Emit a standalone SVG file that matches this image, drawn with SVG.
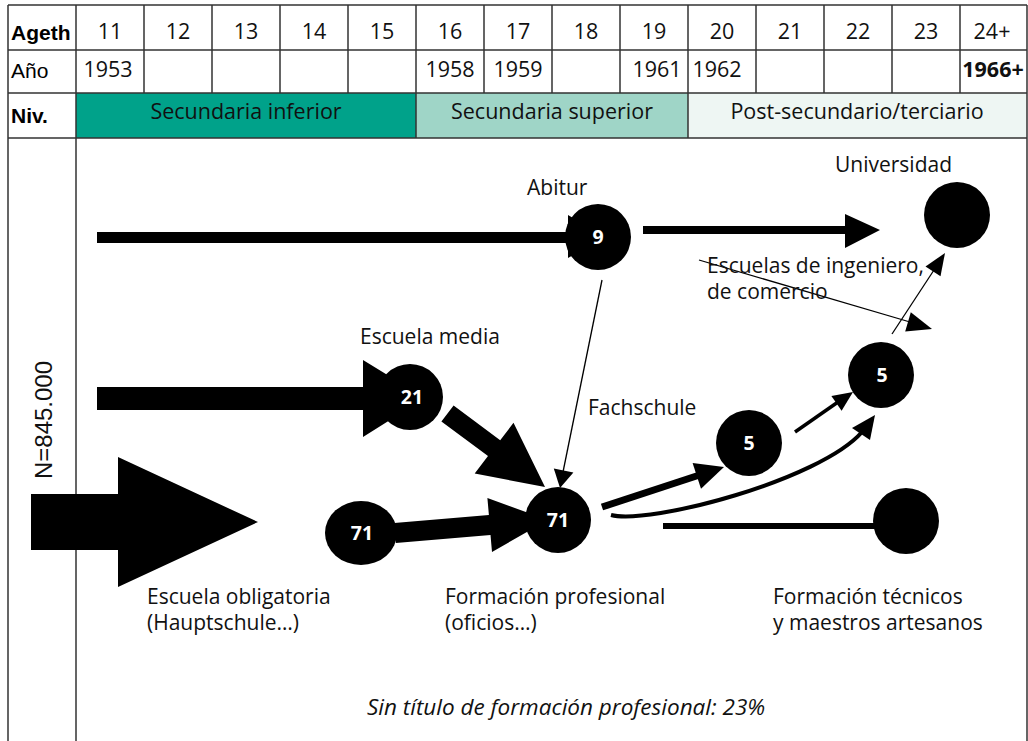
<svg xmlns="http://www.w3.org/2000/svg" width="1028" height="741" viewBox="0 0 1028 741">
<style>
.grid{stroke:#333;stroke-width:1.5;fill:none}
.hd{font-family:"Liberation Sans",Arial,sans-serif;font-size:21px;fill:#000}
.b{font-weight:bold}
.num{font-family:"Open Sans","Noto Sans",sans-serif;font-size:21.5px;fill:#111;text-anchor:middle}
.lbl{font-family:"Open Sans","Noto Sans",sans-serif;font-size:21px;fill:#111}
.cn{font-family:"Open Sans","Noto Sans",sans-serif;font-size:19.5px;font-weight:bold;fill:#fff;text-anchor:middle}
.thin{stroke:#000;stroke-width:1.3;fill:none}
</style>
<rect width="1028" height="741" fill="#fff"/>
<g id="table">
<rect x="76" y="93" width="340" height="45" fill="#00A28A"/>
<rect x="416" y="93" width="272" height="45" fill="#9FD5C7"/>
<rect x="688" y="93" width="339" height="45" fill="#EEF6F3"/>
<path class="grid" d="M8,5H1027M8,50H1027M8,93H1027M8,138H1027M8,5V741M76,5V741M1027,5V741"/>
<path class="grid" d="M144,5V93M212,5V93M280,5V93M348,5V93M416,5V138M484,5V93M552,5V93M620,5V93M688,5V138M756,5V93M824,5V93M892,5V93M960,5V93"/>
<text class="hd b" x="11" y="40">Ageth</text>
<text class="hd" x="11" y="78">Año</text>
<text class="hd b" x="11" y="123">Niv.</text>
<g class="num">
<text x="110" y="39">11</text><text x="178" y="39">12</text><text x="246" y="39">13</text><text x="314" y="39">14</text><text x="382" y="39">15</text><text x="450" y="39">16</text><text x="518" y="39">17</text><text x="586" y="39">18</text><text x="654" y="39">19</text><text x="722" y="39">20</text><text x="790" y="39">21</text><text x="858" y="39">22</text><text x="926" y="39">23</text><text x="992" y="39">24+</text>
<text x="108" y="77">1953</text><text x="450" y="77">1958</text><text x="518" y="77">1959</text><text x="657" y="77">1961</text><text x="717" y="77">1962</text><text x="993" y="77" font-weight="bold">1966+</text>
<text x="246" y="119">Secundaria inferior</text><text x="552" y="119">Secundaria superior</text><text x="857" y="119">Post-secundario/terciario</text>
</g>
<text transform="translate(52,420) rotate(-90)" text-anchor="middle" font-family="Liberation Sans,Arial,sans-serif" font-size="24" fill="#111">N=845.000</text>
</g>
<g id="connectors">
<polygon points="31,494 118,494 118,457 258,522 118,587 118,550 31,550"/>
<polygon points="97,232 568,232 568,215 605,237 568,258 568,243 97,243"/>
<polygon points="97,387 363,387 363,360 425,398 363,437 363,410 97,410"/>
<polygon points="394.2,523 488.9,515 487.4,498.1 548,520 492,551.9 490.5,535 395.8,543"/>
<polygon points="453.6,405.6 500.2,440.3 513.5,422.8 545,487 474.7,473.6 488,456.1 441.4,421.5"/>
<polygon points="643,226 845,226 845,214 880,230 845,248 845,234 643,234"/>
<line x1="602" y1="507" x2="698" y2="475.5" stroke="#000" stroke-width="7"/>
<polygon points="692.6,463.1 724,467 701,488.7"/>
<line x1="795" y1="432" x2="838" y2="402" stroke="#000" stroke-width="3.5"/>
<polygon points="831.4,395.9 853,392 841.6,410.7"/>
<path d="M611,515 C650,525 820,480 862,432" stroke="#000" stroke-width="4" fill="none"/>
<polygon points="852,428 875,415 870,440"/>
<line x1="663" y1="526" x2="890" y2="526" stroke="#000" stroke-width="6"/>
<line class="thin" x1="602" y1="280" x2="563" y2="472"/>
<polygon points="553.8,468.4 560,488 573.4,472.4"/>
<line class="thin" x1="699" y1="260" x2="910" y2="322"/>
<polygon points="905.2,331.5 932,329 910.8,312.3"/>
<line class="thin" x1="892" y1="334" x2="934" y2="270"/>
<polygon points="925.5,266.5 945,253 940.5,276.3"/>
</g>
<g id="node-9"><circle cx="598" cy="237" r="33"/><text class="cn" x="598" y="244">9</text></g>
<g id="node-universidad"><circle cx="957" cy="215" r="33"/></g>
<g id="node-21"><circle cx="410" cy="397" r="33"/><text class="cn" x="412" y="404">21</text></g>
<g id="node-71a"><ellipse cx="361" cy="533" rx="36" ry="32"/><text class="cn" x="362" y="540">71</text></g>
<g id="node-71b"><circle cx="558" cy="520" r="33"/><text class="cn" x="558" y="527">71</text></g>
<g id="node-5a"><circle cx="749" cy="443" r="33"/><text class="cn" x="749" y="450">5</text></g>
<g id="node-5b"><circle cx="881" cy="375" r="33"/><text class="cn" x="882" y="382">5</text></g>
<g id="node-tecnicos"><circle cx="906" cy="521" r="33"/></g>
<g id="labels" class="lbl">
<text x="527" y="195">Abitur</text>
<text x="835" y="172">Universidad</text>
<text x="707" y="273">Escuelas de ingeniero,</text>
<text x="707" y="299">de comercio</text>
<text x="360" y="344">Escuela media</text>
<text x="588" y="415">Fachschule</text>
<text x="147" y="604">Escuela obligatoria</text>
<text x="147" y="630">(Hauptschule…)</text>
<text x="445" y="604">Formación profesional</text>
<text x="445" y="630">(oficios…)</text>
<text x="773" y="604">Formación técnicos</text>
<text x="773" y="630">y maestros artesanos</text>
<text x="367" y="715" font-style="italic" font-size="22.5">Sin título de formación profesional: 23%</text>
</g>
</svg>
